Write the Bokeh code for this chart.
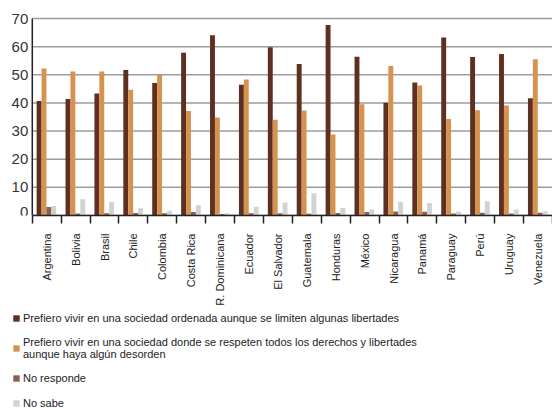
from math import pi
from bokeh.plotting import figure
from bokeh.layouts import column
from bokeh.core.properties import value
from bokeh.models import ColumnDataSource, Legend, LegendItem, FixedTicker, Range1d
from bokeh.transform import dodge
from bokeh.embed import file_html
from bokeh.resources import INLINE

countries = ["Argentina", "Bolivia", "Brasil", "Chile", "Colombia", "Costa Rica",
             "R. Dominicana", "Ecuador", "El Salvador", "Guatemala", "Honduras",
             "México", "Nicaragua", "Panamá", "Paraguay", "Perú", "Uruguay", "Venezuela"]
ordenada = [40.7, 41.4, 43.4, 51.7, 47.1, 57.8, 64.1, 46.5, 59.8, 53.8, 67.7,
            56.4, 40.1, 47.3, 63.3, 56.3, 57.4, 41.7]
derechos = [52.2, 51.2, 51.2, 44.7, 50.0, 37.1, 34.8, 48.3, 34.0, 37.3, 28.8,
            39.5, 53.1, 46.2, 34.3, 37.4, 39.1, 55.5]
no_responde = [3.0, 0.7, 0.8, 0.9, 0.8, 1.2, 0.5, 0.8, 0.8, 0.6, 0.9,
               1.2, 1.4, 1.3, 0.7, 1.0, 0.7, 1.0]
no_sabe = [3.4, 5.8, 4.8, 2.6, 1.7, 3.6, 0.8, 3.1, 4.6, 7.9, 2.7,
           2.1, 4.9, 4.4, 1.4, 5.1, 2.1, 1.5]
series_labels = [
    "Prefiero vivir en una sociedad ordenada aunque se limiten algunas libertades",
    "Prefiero vivir en una sociedad donde se respeten todos los derechos y libertades\naunque haya algún desorden",
    "No responde",
    "No sabe",
]
y_ticks = [0, 10, 20, 30, 40, 50, 60, 70]

colors = ["#5e3021", "#d69350", "#8c604f", "#d2d2d2"]
keys = ["ordenada", "derechos", "no_responde", "no_sabe"]
offsets = [-0.265, -0.095, 0.075, 0.245]
FONT = "Liberation Sans"

n = len(countries)
centers = [i + 0.5 for i in range(n)]
src = ColumnDataSource(dict(x=centers, ordenada=ordenada, derechos=derechos,
                            no_responde=no_responde, no_sabe=no_sabe))
# the "0" label is lifted a little so that it is not cut by the frame edge
ysrc = ColumnDataSource(dict(y=y_ticks, lab=[str(t) for t in y_ticks],
                             x0=[0] * len(y_ticks), x1=[n] * len(y_ticks),
                             yo=[-4 if t == y_ticks[0] else 0 for t in y_ticks]))

# x range leaves room on the left for the value labels (drawn inside the frame)
p = figure(width=552, height=308, x_range=Range1d(-1.1, n), y_range=Range1d(0, 72.5),
           output_backend="svg", toolbar_location=None, y_axis_location=None,
           min_border_left=0, min_border_right=0, min_border_top=11,
           min_border_bottom=92)
p.outline_line_color = None
p.background_fill_color = "white"
p.xgrid.visible = False
p.ygrid.visible = False

# horizontal grid lines and value axis
p.segment(x0="x0", y0="y", x1="x1", y1="y", source=ysrc,
          line_color="#9d9d9d", line_width=1.5)
p.segment(x0=[0], y0=[y_ticks[0]], x1=[0], y1=[y_ticks[-1]],
          line_color="#222222", line_width=1.5)
p.text(x="x0", y="y", text="lab", source=ysrc, x_offset=-4, y_offset="yo",
       text_align="right", text_baseline="middle",
       text_font=value(FONT), text_font_size="15px", text_color="#333333")

for k, c, off in zip(keys, colors, offsets):
    p.vbar(x=dodge("x", off, range=p.x_range), top=k, width=0.17,
           source=src, fill_color=c, line_color=None)

# x axis
xax = p.xaxis[0]
xax.bounds = (0, n)
xax.ticker = FixedTicker(ticks=centers, minor_ticks=list(range(n + 1)))
xax.major_label_overrides = {c: name for c, name in zip(centers, countries)}
xax.major_tick_line_color = None
xax.major_tick_out = 0
xax.major_tick_in = 0
xax.minor_tick_line_color = "#222222"
xax.minor_tick_line_width = 1.5
xax.minor_tick_out = 8
xax.minor_tick_in = 0
xax.axis_line_color = "#222222"
xax.axis_line_width = 1.5
xax.major_label_orientation = pi / 2
xax.major_label_standoff = 10
xax.major_label_text_font = FONT
xax.major_label_text_font_size = "11px"
xax.major_label_text_color = "#222222"

# legend panel (separate figure below the chart)
lf = figure(width=552, height=100, x_range=Range1d(0, 1), y_range=Range1d(0, 1),
            output_backend="svg", toolbar_location=None,
            x_axis_type=None, y_axis_type=None,
            min_border_left=0, min_border_right=0, min_border_top=0, min_border_bottom=0)
lf.outline_line_color = None
lf.grid.visible = False
lrs = []
for k, c in zip(keys, colors):
    r = lf.vbar(x="x", top=k, width=0.17, source=src, fill_color=c, line_color=None)
    r.visible = False
    lrs.append(r)

legend = Legend(
    items=[LegendItem(label=lab, renderers=[r]) for lab, r in zip(series_labels, lrs)],
    location=(12, -2),
    orientation="vertical",
    glyph_width=8, glyph_height=8, label_standoff=3,
    label_height=14, spacing=11, padding=0, margin=0,
    border_line_color=None, background_fill_alpha=0,
    inactive_fill_alpha=0,
    label_text_font=FONT, label_text_font_size="11px",
    label_text_color="#222222",
)
lf.add_layout(legend)

page = column(p, lf, spacing=0)
open("out.html", "w").write(file_html(page, INLINE))
